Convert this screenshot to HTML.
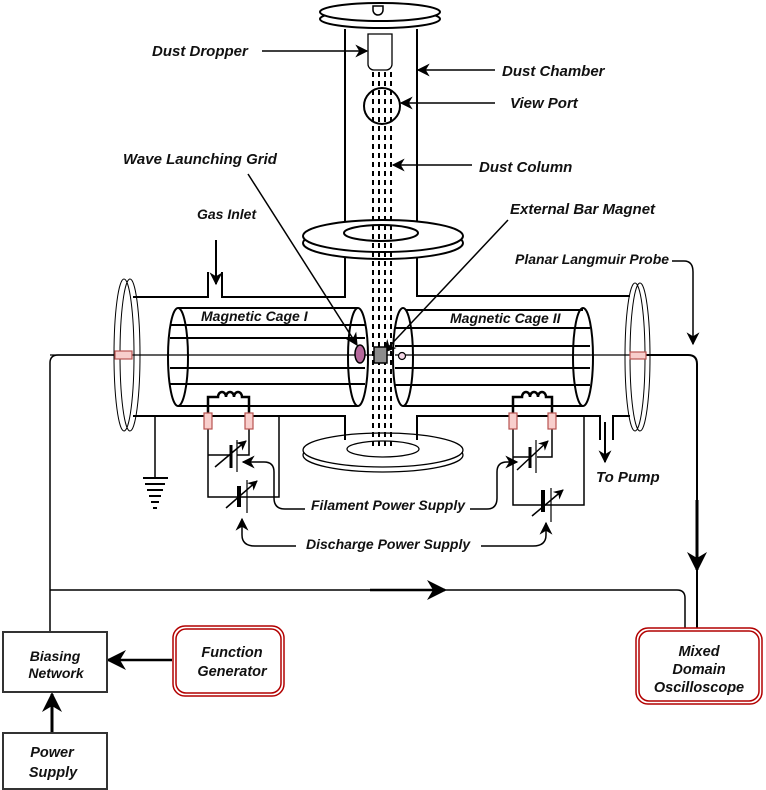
<!DOCTYPE html>
<html><head><meta charset="utf-8"><style>
html,body{margin:0;padding:0;background:#fff;}
svg{display:block}
text{font-family:"Liberation Sans",Arial,sans-serif;font-weight:bold;font-style:italic;fill:#111}
</style></head><body>
<svg width="766" height="790" viewBox="0 0 766 790" xmlns="http://www.w3.org/2000/svg">
<defs>
<marker id="ah" viewBox="0 0 10 10" refX="9" refY="5" markerUnits="userSpaceOnUse" markerWidth="13" markerHeight="13" orient="auto"><path d="M0,0 L10,5 L0,10 L3,5 z" fill="#000"/></marker>
<marker id="big" viewBox="0 0 10 10" refX="9" refY="5" markerUnits="userSpaceOnUse" markerWidth="22" markerHeight="20" orient="auto"><path d="M0,0 L10,5 L0,10 L3,5 z" fill="#000"/></marker>
<marker id="ahb" viewBox="0 0 10 10" refX="9" refY="5" markerUnits="userSpaceOnUse" markerWidth="10" markerHeight="10" orient="auto"><path d="M0,0 L10,5 L0,10 L3,5 z" fill="#000"/></marker>
</defs>
<g fill="none" stroke="#000" stroke-width="2">
<ellipse cx="380" cy="19" rx="60" ry="9" fill="#fff"/>
<ellipse cx="380" cy="12" rx="60" ry="9" fill="#fff"/>
<path d="M373,6 h10 v4 a5,5 0 0 1 -10,0 z" stroke-width="1.5"/>
<line x1="345" y1="29" x2="345" y2="233"/>
<line x1="417" y1="29" x2="417" y2="233"/>
<path d="M368,34 h24 v30 a6,6 0 0 1 -6,6 h-12 a6,6 0 0 1 -6,-6 z" stroke-width="1.3"/>
<circle cx="382" cy="106" r="18"/>
<ellipse cx="383" cy="243" rx="80" ry="16" fill="#fff"/>
<ellipse cx="383" cy="236" rx="80" ry="16" fill="#fff"/>
<ellipse cx="381" cy="233" rx="37" ry="8"/>
<ellipse cx="383" cy="455" rx="80" ry="17" fill="#fff" stroke-width="1.3"/>
<ellipse cx="383" cy="450" rx="80" ry="17" fill="#fff" stroke-width="1.3"/>
<ellipse cx="383" cy="449" rx="36" ry="8" stroke-width="1.3"/>
<g stroke-width="2" stroke-dasharray="5,4">
<line x1="373" y1="72" x2="373" y2="448"/><line x1="379" y1="72" x2="379" y2="448"/>
<line x1="385" y1="72" x2="385" y2="448"/><line x1="391" y1="72" x2="391" y2="448"/>
</g>
<path d="M133,297 H208 V272 M222,272 V297 H345 V257"/>
<path d="M417,257 V296 H630"/>
<path d="M133,416 H345 V440"/>
<path d="M417,440 V416 H600 V440 M613,440 V416 H630"/>
<line x1="216" y1="240" x2="216" y2="284" marker-end="url(#ah)"/>
<line x1="605" y1="422" x2="605" y2="462" marker-end="url(#ah)"/>
<line x1="50" y1="355" x2="640" y2="355" stroke-width="1.2"/>
<ellipse cx="124" cy="355" rx="10" ry="76" stroke-width="1"/>
<ellipse cx="130" cy="355" rx="10" ry="76" stroke-width="1"/>
<ellipse cx="635" cy="357" rx="10" ry="74" stroke-width="1"/>
<ellipse cx="640" cy="357" rx="10" ry="74" stroke-width="1"/>
<path d="M178,308 H358 M178,406 H358"/>
<path d="M170,325 H365 M170,338 H365 M170,368 H365 M170,384 H365"/>
<ellipse cx="178" cy="357" rx="10" ry="49"/>
<ellipse cx="358" cy="357" rx="10" ry="49"/>
<path d="M403,310 H583 M403,406 H583"/>
<ellipse cx="403" cy="357" rx="10" ry="49" fill="#fff"/>
<path d="M395,328 H590 M395,346 H590 M395,368 H590 M395,385 H590"/>
<ellipse cx="583" cy="357" rx="10" ry="49"/>
<line x1="395" y1="355" x2="590" y2="355" stroke-width="1.2"/>
<path d="M208,413 V397 H218 a4,5 0 0 1 8,0 a4,5 0 0 1 8,0 a4,5 0 0 1 8,0 H249 V413" stroke-width="2.5"/>
<path d="M513,413 V397 H522 a4,5 0 0 1 8,0 a4,5 0 0 1 8,0 a4,5 0 0 1 8,0 H552 V413" stroke-width="2.5"/>
<path d="M208,428 V497 H279 V416" stroke-width="1.5"/>
<path d="M249,428 V455 H237 M232,455 H208" stroke-width="1.5"/>
<line x1="231" y1="445" x2="231" y2="468" stroke-width="3"/>
<line x1="237" y1="440" x2="237" y2="472" stroke-width="1.2"/>
<line x1="215" y1="467" x2="246" y2="441" stroke-width="1.5" marker-end="url(#ahb)"/>
<line x1="239" y1="486" x2="239" y2="507" stroke-width="4"/>
<line x1="247" y1="480" x2="247" y2="513" stroke-width="1.2"/>
<line x1="226" y1="508" x2="257" y2="481" stroke-width="1.5" marker-end="url(#ahb)"/>
<path d="M513,428 V505 H584 V416" stroke-width="1.5"/>
<path d="M552,428 V457 H537 M531,457 H513" stroke-width="1.5"/>
<line x1="530" y1="447" x2="530" y2="468" stroke-width="3"/>
<line x1="536" y1="440" x2="536" y2="473" stroke-width="1.2"/>
<line x1="517" y1="470" x2="548" y2="441" stroke-width="1.5" marker-end="url(#ahb)"/>
<line x1="543" y1="490" x2="543" y2="512" stroke-width="4"/>
<line x1="551" y1="488" x2="551" y2="522" stroke-width="1.2"/>
<line x1="532" y1="516" x2="563" y2="490" stroke-width="1.5" marker-end="url(#ahb)"/>
<path d="M305,509 H285 Q274,509 274,498 V472 Q274,462 264,462 H243" stroke-width="1.5" marker-end="url(#ah)"/>
<path d="M470,509 H487 Q497,509 497,498 V472 Q497,462 507,462 H517" stroke-width="1.5" marker-end="url(#ah)"/>
<path d="M296,546 H255 Q242,546 242,535 V519" stroke-width="1.5" marker-end="url(#ah)"/>
<path d="M481,546 H533 Q546,546 546,535 V523" stroke-width="1.5" marker-end="url(#ah)"/>
<line x1="155" y1="416" x2="155" y2="478" stroke-width="1.5"/>
<path d="M143,478 H168 M145,484 H165 M147,490 H163 M149,496 H161 M151,502 H159 M153,508 H157" stroke-width="2"/>
<line x1="262" y1="51" x2="367" y2="51" stroke-width="1.5" marker-end="url(#ah)"/>
<line x1="495" y1="70" x2="418" y2="70" stroke-width="1.5" marker-end="url(#ah)"/>
<line x1="495" y1="103" x2="401" y2="103" stroke-width="1.5" marker-end="url(#ah)"/>
<line x1="472" y1="165" x2="393" y2="165" stroke-width="1.5" marker-end="url(#ah)"/>
<line x1="248" y1="174" x2="357" y2="345" stroke-width="1.5" marker-end="url(#ah)"/>
<line x1="508" y1="220" x2="384" y2="352" stroke-width="1.5" marker-end="url(#ah)"/>
<path d="M672,261 H684 Q693,261 693,272 V344" stroke-width="1.5" marker-end="url(#ah)"/>
<path d="M50,632 V363 Q50,355 58,355 H115" stroke-width="1.5"/>
<path d="M50,590 H677 Q685,590 685,598 V628" stroke-width="1.5"/>
<line x1="370" y1="590" x2="445" y2="590" stroke-width="2.5" marker-end="url(#big)"/>
<path d="M645,355 H688 Q697,355 697,364 V628" stroke-width="2"/>
<line x1="697" y1="500" x2="697" y2="570" stroke-width="3" marker-end="url(#big)"/>
<line x1="172" y1="660" x2="108" y2="660" stroke-width="2.5" marker-end="url(#big)"/>
<line x1="52" y1="732" x2="52" y2="694" stroke-width="3" marker-end="url(#big)"/>
</g>
<g stroke="#b85450" stroke-width="1.2" fill="#f8cecc">
<rect x="115" y="351" width="17" height="8"/>
<rect x="630" y="352" width="16" height="7"/>
<rect x="204" y="413" width="8" height="16"/>
<rect x="245" y="413" width="8" height="16"/>
<rect x="509" y="413" width="8" height="16"/>
<rect x="548" y="413" width="8" height="16"/>
</g>
<ellipse cx="360" cy="354" rx="5" ry="9" fill="#b5689b" stroke="#000" stroke-width="1.5"/>
<rect x="374" y="347" width="13" height="16" fill="#8c8c8c" stroke="#000" stroke-width="1.5"/>
<circle cx="402" cy="356" r="3.5" fill="#f4d7e6" stroke="#000" stroke-width="1.2"/>
<rect x="3" y="632" width="104" height="60" fill="#fff" stroke="#333" stroke-width="2"/>
<rect x="3" y="733" width="104" height="56" fill="#fff" stroke="#333" stroke-width="2"/>
<rect x="173" y="626" width="111" height="70" rx="12" fill="#fff" stroke="#b20000" stroke-width="1.5"/>
<rect x="176" y="629" width="105" height="64" rx="10" fill="none" stroke="#b20000" stroke-width="1.5"/>
<rect x="636" y="628" width="126" height="76" rx="12" fill="#fff" stroke="#b20000" stroke-width="1.5"/>
<rect x="639" y="631" width="120" height="70" rx="10" fill="none" stroke="#b20000" stroke-width="1.5"/>
<g font-size="15">
<text x="152" y="56">Dust Dropper</text>
<text x="502" y="76">Dust Chamber</text>
<text x="510" y="108">View Port</text>
<text x="479" y="172">Dust Column</text>
<text x="123" y="164">Wave Launching Grid</text>
<text x="510" y="214">External Bar Magnet</text>
<text x="596" y="482">To Pump</text>
</g>
<g font-size="14">
<text x="311" y="510">Filament Power Supply</text>
<text x="306" y="549">Discharge Power Supply</text>
<text x="197" y="219">Gas Inlet</text>
<text x="515" y="264">Planar Langmuir Probe</text>
<text x="201" y="321">Magnetic Cage I</text>
<text x="450" y="323">Magnetic Cage II</text>
<text x="55" y="661" text-anchor="middle">Biasing</text>
<text x="56" y="678" text-anchor="middle">Network</text>
</g>
<g font-size="14.5" text-anchor="middle">
<text x="232" y="657">Function</text>
<text x="232" y="676">Generator</text>
<text x="52" y="757">Power</text>
<text x="53" y="777">Supply</text>
<text x="699" y="656">Mixed</text>
<text x="699" y="674">Domain</text>
<text x="699" y="692">Oscilloscope</text>
</g>
</svg>
</body></html>
